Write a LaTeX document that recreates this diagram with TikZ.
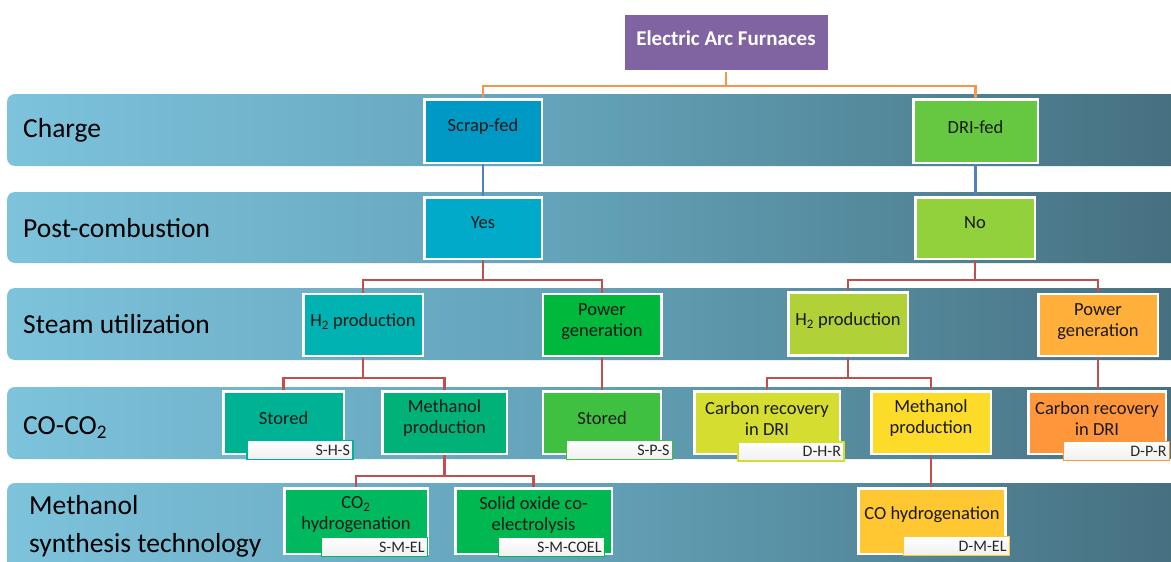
\documentclass[tikz,border=0pt]{standalone}
\usepackage{fontspec}
\setmainfont{Carlito}
\usetikzlibrary{shadows,calc}
\pgfdeclarelayer{bg}
\pgfdeclarelayer{lines}
\pgfsetlayers{bg,lines,main}
\definecolor{bandL}{HTML}{7DC3DC}
\definecolor{bandM}{HTML}{62A0B6}
\definecolor{bandR}{HTML}{456E7E}
\definecolor{cEAF}{HTML}{8064A2}
\definecolor{cScrap}{HTML}{0099C6}
\definecolor{cDRI}{HTML}{66C840}
\definecolor{cYes}{HTML}{00AAC8}
\definecolor{cNo}{HTML}{92D03C}
\definecolor{cHS}{HTML}{00B2B2}
\definecolor{cPS}{HTML}{00B83C}
\definecolor{cHD}{HTML}{B0D238}
\definecolor{cPD}{HTML}{FFB03B}
\definecolor{cSHS}{HTML}{00B294}
\definecolor{cMPS}{HTML}{00B278}
\definecolor{cSPS}{HTML}{40C040}
\definecolor{cDHR}{HTML}{D5DE30}
\definecolor{cMPD}{HTML}{FCDC28}
\definecolor{cDPR}{HTML}{FF963C}
\definecolor{cSME}{HTML}{00B95F}
\definecolor{cSMC}{HTML}{00B850}
\definecolor{cDME}{HTML}{FFC832}
\definecolor{lineO}{HTML}{F79646}
\definecolor{lineB}{HTML}{4F81BD}
\definecolor{lineR}{HTML}{C0504D}
\tikzset{
  band/.style={rounded corners=8pt, left color=bandL, right color=bandR, middle color=bandM},
  bandlabel/.style={anchor=west, text=black, font=\fontsize{27.5}{38}\selectfont, align=left, inner sep=0pt},
  box/.style={draw=white, line width=2.5pt,
    inner sep=0pt, drop shadow={opacity=0.35, shadow xshift=1.5pt, shadow yshift=-1.5pt}},
  boxtext/.style={align=center, text=black!90, font=\fontsize{18.5}{21}\selectfont, inner sep=0pt},
  eaftext/.style={boxtext, text=white, font=\bfseries\fontsize{21}{24}\selectfont},
  tag/.style={line width=1.8pt, minimum height=19pt, inner ysep=1pt, inner xsep=3pt, text width=100pt,
    align=right, font=\fontsize{16}{16}\selectfont, text=black!85, top color=white, bottom color=gray!12},
  oline/.style={draw=lineO, line width=2.2pt},
  bline/.style={draw=lineB, line width=2.2pt},
  rline/.style={draw=lineR, line width=2.2pt},
}
% name, colour, x, y, inner width, inner height, upward text shift, text
\newcommand{\mybox}[8]{%
  \node[box, fill=#2, minimum width=#5pt, minimum height=#6pt] (#1) at (#3,#4) {};
  \node[boxtext] (#1-t) at ($(#1)+(0,-#7)$) {#8};}
\begin{document}
\begin{tikzpicture}[x=1pt,y=-1pt]
\useasboundingbox (0,0) rectangle (1171,562);
\begin{pgfonlayer}{bg}
  \fill[white] (0,0) rectangle (1171,562);
  \shade[band] (7,94) rectangle (1195,166);
  \shade[band] (7,192) rectangle (1195,263);
  \shade[band] (7,288) rectangle (1195,360);
  \shade[band] (7,387) rectangle (1195,459);
  \shade[band] (7,483) rectangle (1195,610);
\end{pgfonlayer}
\node[bandlabel] (lcharge) at (23,130) {Charge};
\node[bandlabel] (lpost) at (23,228) {Post-combustion};
\node[bandlabel] (lsteam) at (23,324) {Steam utilization};
\node[bandlabel] (lco) at (23,428) {CO-CO\textsubscript{2}};
\node[bandlabel] (lmeth) at (29,526) {Methanol\\synthesis technology};

\node[box, fill=cEAF, minimum width=205.5pt, minimum height=57.5pt] (eaf) at (726,42) {};
\node[eaftext] (eaf-t) at ($(eaf)+(0,-4)$) {Electric Arc Furnaces};
\mybox{scrap}{cScrap}{483}{131}{117.5}{63.5}{4}{Scrap-fed}
\mybox{dri}{cDRI}{975.5}{131}{124.5}{63.5}{4}{DRI-fed}
\mybox{yes}{cYes}{483}{228}{117.5}{61.5}{5}{Yes}
\mybox{no}{cNo}{975}{228}{119.5}{61.5}{5}{No}
\mybox{h2s}{cHS}{363}{325}{119.5}{62}{3}{H\textsubscript{2} production}
\mybox{pgs}{cPS}{602}{325}{118.5}{62}{3}{Power\\generation}
\mybox{h2d}{cHD}{848}{324}{119.5}{63}{3}{H\textsubscript{2} production}
\mybox{pgd}{cPD}{1098}{325}{119.5}{62}{3}{Power\\generation}

\mybox{shs}{cSHS}{283.5}{422.5}{120.5}{62.5}{4.5}{Stored}
\mybox{mps}{cMPS}{444.5}{422.5}{124.5}{62.5}{4.5}{Methanol\\production}
\mybox{sps}{cSPS}{602}{422.5}{118}{62.5}{4.5}{Stored}
\mybox{dhr}{cDHR}{767}{422.5}{145.5}{62.5}{4}{Carbon recovery\\in DRI}
\mybox{mpd}{cMPD}{931}{422.5}{119.5}{62.5}{4.5}{Methanol\\production}
\mybox{dpr}{cDPR}{1097}{422.5}{137.5}{62.5}{4}{Carbon recovery\\in DRI}

\mybox{sme}{cSME}{356}{521}{143.5}{65.5}{6}{CO\textsubscript{2}\\hydrogenation}
\mybox{smc}{cSMC}{533.5}{521}{156.5}{65.5}{6}{Solid oxide co-\\electrolysis}
\mybox{dme}{cDME}{932}{521}{147}{65.5}{6}{CO hydrogenation}

\node[tag, draw=cSHS] (tshs) at (300,450) {S-H-S};
\node[tag, draw=cSPS] (tsps) at (619.5,450) {S-P-S};
\node[tag, draw=cDHR] (tdhr) at (791,451.5) {D-H-R};
\node[tag, draw=cDPR] (tdpr) at (1116.5,451) {D-P-R};
\node[tag, draw=cSME] (tsme) at (374.5,547) {S-M-EL};
\node[tag, draw=cSMC] (tsmc) at (551.5,547) {S-M-COEL};
\node[tag, draw=cDME] (tdme) at (956.5,546) {D-M-EL};

\begin{pgfonlayer}{lines}
  \draw[oline] (eaf.south) -- ++(0,14) -| (scrap.north);
  \draw[oline] (eaf.south) -- ++(0,14) -| (dri.north);
  \draw[bline] (scrap.south) -- (yes.north);
  \draw[bline] (dri.south) -- (dri.south |- no.north);
  \draw[rline] (yes.south) -- ++(0,20) -| (h2s.north);
  \draw[rline] (yes.south) -- ++(0,20) -| (pgs.north);
  \draw[rline] (no.south) -- ++(0,20) -| (h2d.north);
  \draw[rline] (no.south) -- ++(0,20) -| (pgd.north);
  \draw[rline] (h2s.south) -- ++(0,21) -| (shs.north);
  \draw[rline] (h2s.south) -- ++(0,21) -| (mps.north);
  \draw[rline] (pgs.south) -- (pgs.south |- sps.north);
  \draw[rline] (h2d.south) -- ++(0,21) -| (dhr.north);
  \draw[rline] (h2d.south) -- ++(0,21) -| (mpd.north);
  \draw[rline] (pgd.south) -- (pgd.south |- dpr.north);
  \draw[rline] (mps.south) -- ++(0,21) -| (sme.north);
  \draw[rline] (mps.south) -- ++(0,21) -| (smc.north);
  \draw[rline] (mpd.south) -- (mpd.south |- dme.north);
\end{pgfonlayer}
\end{tikzpicture}
\end{document}
